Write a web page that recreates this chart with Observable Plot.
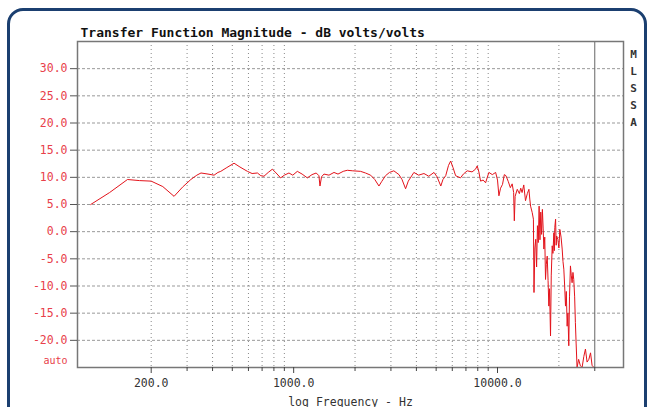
<!DOCTYPE html>
<html>
<head>
<meta charset="utf-8">
<script src="https://cdn.jsdelivr.net/npm/d3@7"></script>
<script src="https://cdn.jsdelivr.net/npm/@observablehq/plot@0.6"></script>
<style>
  html, body { margin: 0; padding: 0; background: #fff; }
  #wrap { position: relative; width: 652px; height: 407px; overflow: hidden; }
  #border { position: absolute; left: 7px; top: 8px; width: 640px; height: 420px;
            border: 3px solid #1b3f70; border-radius: 16px; box-sizing: border-box; }
  #chart { position: absolute; left: 0; top: 0; }
</style>
</head>
<body>
<div id="wrap"><div id="border"></div><div id="chart"></div></div>
<script>
// ---- data ----
const freqHz = [
  101, 125, 153, 175, 200, 228, 259, 285, 313, 335, 351, 380, 407, 425, 439, 470, 510, 545, 593, 625,
  664, 690, 715, 750, 786, 820, 863, 900, 948, 990, 1042, 1100, 1167, 1230, 1290, 1330, 1346, 1370, 1408, 1490,
  1577, 1650, 1750, 1832, 1950, 2130, 2250, 2385, 2500, 2620, 2700, 2822, 2950, 3100, 3285, 3400, 3540, 3650, 3888, 4100,
  4357, 4600, 4880, 5050, 5270, 5400, 5570, 5750, 5890, 6050, 6230, 6580, 6800, 7100, 7500, 7800, 7950, 8100, 8260, 8500,
  8740, 9070, 9430, 9790, 10000, 10160, 10350, 10580, 10800, 11000, 11300, 11560, 11800, 12000, 12090, 12200, 12500, 12800, 13000, 13200,
  13450, 13720, 14000, 14260, 14400, 14530, 14800, 15000, 15100, 15250, 15400, 15550, 15700, 15850, 16000, 16150, 16300, 16450, 16600, 16750,
  16880, 17050, 17200, 17350, 17530, 17700, 17860, 18000, 18200, 18350, 18550, 18700, 18900, 19000, 19100, 19270, 19400, 19500, 19770, 20000,
  20220, 20500, 20760, 20950, 21150, 21350, 21550, 21750, 21960, 22150, 22370, 22550, 22790, 23000, 23220, 23450, 23660, 23900, 24100, 24300,
  24560, 25000, 25500, 26000, 26500, 27000, 27500, 28060, 28600, 29100, 29700
];
const magDb = [
  5.0, 7.2, 9.6, 9.4, 9.3, 8.3, 6.5, 8.2, 9.6, 10.4, 10.8, 10.6, 10.4, 10.9, 11.1, 11.8, 12.6, 11.9, 11.1, 10.7,
  10.8, 10.3, 10.2, 10.9, 11.5, 10.8, 9.9, 10.4, 10.8, 10.4, 11.1, 10.6, 9.9, 10.5, 10.8, 10.3, 8.4, 10.1, 10.6, 10.4,
  10.9, 10.6, 11.1, 11.3, 11.2, 11.1, 10.8, 10.4, 9.6, 8.4, 9.2, 10.3, 10.9, 11.2, 10.5, 9.6, 7.9, 9.3, 10.9, 10.4,
  10.7, 10.2, 10.9, 10.1, 8.4, 9.6, 10.3, 12.2, 13.0, 11.8, 10.3, 9.9, 10.6, 11.2, 11.0, 11.5, 12.1, 11.0, 9.3, 9.5,
  9.0, 10.9, 10.5, 10.9, 9.5, 6.6, 8.0, 8.7, 10.5, 10.3, 9.2, 8.1, 8.8, 7.2, 2.0, 6.5, 7.8, 7.0, 8.0, 7.2,
  8.6, 5.7, 7.0, 7.8, 6.0, 4.7, 3.5, 2.3, -11.2, -3.0, -1.4, -6.5, 1.1, -2.0, 4.7, -1.5, 3.6, -0.5, 4.1, 0.5,
  -3.2, -1.0, -8.8, -6.0, -4.5, -9.0, -13.7, -10.5, -19.2, -8.0, -2.6, -4.0, -0.2, -3.5, 0.8, 2.3, -2.5, -0.8, -1.4, -3.0,
  0.4, -1.0, -3.2, -5.5, -6.9, -10.0, -13.7, -11.0, -17.4, -15.0, -21.0, -12.0, -6.3, -8.0, -9.4, -7.5, -8.8, -12.0, -16.7, -20.5,
  -25.0, -23.5, -24.7, -25.0, -23.0, -21.6, -24.0, -23.5, -22.3, -24.6, -25.0
];
const yTicks = [-20, -15, -10, -5, 0, 5, 10, 15, 20, 25, 30];
const xMajorTicks = [200, 1000, 10000];
const xMinorTicks = [300, 400, 500, 600, 700, 800, 900, 2000, 3000, 4000, 5000, 6000, 7000, 8000, 9000, 30000];
const xGridLines = [200, 300, 400, 500, 600, 700, 800, 900, 2000, 3000, 4000, 5000, 6000, 7000, 8000, 9000, 20000];
const markerFreq = [30000];
const titleText = "Transfer Function Magnitude - dB volts/volts";
const xLabelText = "log Frequency - Hz";
const sideText = "M\nL\nS\nS\nA";
const autoText = "auto";

const data = freqHz.map((f, i) => ({f, db: magDb[i]}));
const mono = "'DejaVu Sans Mono', 'Liberation Mono', monospace";

const chart = Plot.plot({
  width: 652,
  height: 407,
  marginLeft: 77,
  marginRight: 29,
  marginTop: 41,
  marginBottom: 40,
  x: {type: "log", domain: [87, 41500]},
  y: {domain: [-25, 35]},
  style: {fontFamily: mono, background: "transparent", fontSize: "11.5px"},
  marks: [
    Plot.gridX(xGridLines, {stroke: "#888", strokeOpacity: 1, strokeDasharray: "1,3"}),
    Plot.gridY(yTicks, {stroke: "#999", strokeOpacity: 1, strokeDasharray: "3,2"}),
    Plot.ruleX(markerFreq, {stroke: "#666", strokeWidth: 1}),
    Plot.line(data, {x: "f", y: "db", stroke: "#e3131b", strokeWidth: 1, clip: true}),
    Plot.frame({stroke: "#777", strokeWidth: 1.5}),
    Plot.axisY(yTicks, {tickSize: 7, tickPadding: 3, tickFormat: d => d.toFixed(1), fill: "#e8404a", stroke: "#555", label: null, letterSpacing: "1.5px"}),
    Plot.axisX(xMajorTicks, {tickSize: 6, tickPadding: 5, tickFormat: d => d.toFixed(1), fill: "#333", stroke: "#444", label: null}),
    Plot.axisX(xMinorTicks, {tickSize: 4, tickFormat: () => "", stroke: "#444", label: null}),
    Plot.text([autoText], {frameAnchor: "bottom-left", dx: -10, dy: -4, textAnchor: "end", fill: "#e8404a", fontSize: 10}),
    Plot.text([titleText], {frameAnchor: "top-left", dx: 3, dy: -14, textAnchor: "start", fill: "#111", fontWeight: "bold", fontSize: 13, letterSpacing: "0.5px"}),
    Plot.text([xLabelText], {frameAnchor: "bottom", dy: 38, textAnchor: "middle", fill: "#333", fontSize: 11.5}),
    Plot.text([sideText], {frameAnchor: "top-right", dx: 10, dy: 4, textAnchor: "middle", lineAnchor: "top", lineHeight: 1.55, fill: "#333", fontSize: 11, fontWeight: "bold"})
  ]
});
document.getElementById("chart").appendChild(chart);
</script>
</body>
</html>
